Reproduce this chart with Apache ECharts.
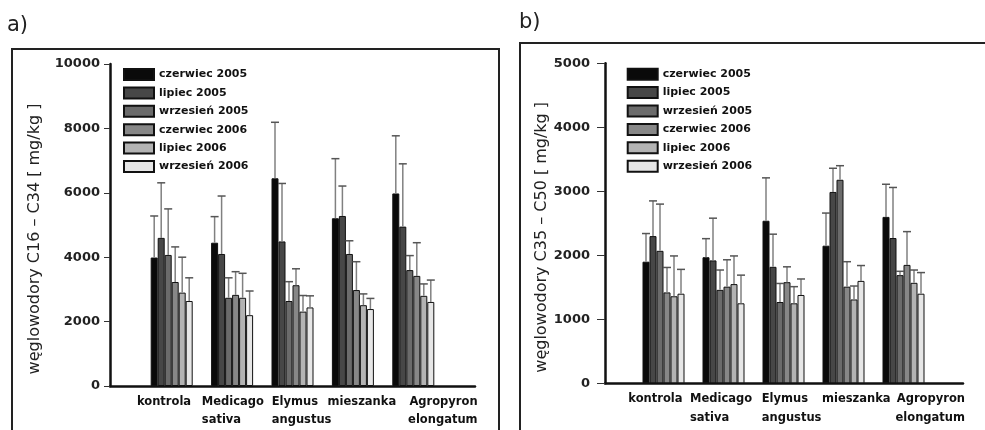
<!DOCTYPE html>
<html>
<head>
<meta charset="utf-8">
<script src="https://cdn.jsdelivr.net/npm/echarts@6/dist/echarts.min.js"></script>
<style>html,body{margin:0;padding:0;background:#fff}#c{width:985px;height:430px}</style>
</head>
<body>
<div id="c"></div>
<script>
// ---------- data ----------
const categories = ['kontrola', 'Medicago\nsativa', 'Elymus\nangustus', 'mieszanka', 'Agropyron\nelongatum'];
const seriesNames = ['czerwiec 2005', 'lipiec 2005', 'wrzesień 2005', 'czerwiec 2006', 'lipiec 2006', 'wrzesień 2006'];
const ticksA = [0, 2000, 4000, 6000, 8000, 10000];
const ticksB = [0, 1000, 2000, 3000, 4000, 5000];
const titleA = 'węglowodory C16 – C34 [ mg/kg ]';
const titleB = 'węglowodory C35 – C50 [ mg/kg ]';

// chart a) C16–C34, one array per sampling date (across categories)
const a_cz05 = [3990, 4450, 6450, 5210, 5980];
const a_lip05 = [4600, 4100, 4490, 5280, 4950];
const a_wrz05 = [4070, 2740, 2640, 4100, 3600];
const a_cz06 = [3230, 2830, 3130, 2980, 3420];
const a_lip06 = [2900, 2740, 2310, 2510, 2800];
const a_wrz06 = [2640, 2200, 2440, 2390, 2610];
// error (SD) for chart a)
const a_cz05_err = [1290, 810, 1740, 1850, 1790];
const a_lip05_err = [1710, 1800, 1800, 930, 1950];
const a_wrz05_err = [1430, 620, 600, 410, 450];
const a_cz06_err = [1090, 720, 510, 880, 1030];
const a_lip06_err = [1100, 760, 500, 350, 370];
const a_wrz06_err = [720, 750, 360, 330, 680];

// chart b) C35–C50
const b_cz05 = [1900, 1970, 2540, 2150, 2600];
const b_lip05 = [2300, 1920, 1820, 2990, 2270];
const b_wrz05 = [2070, 1460, 1270, 3180, 1690];
const b_cz06 = [1420, 1510, 1580, 1510, 1850];
const b_lip06 = [1360, 1550, 1250, 1310, 1570];
const b_wrz06 = [1400, 1250, 1380, 1600, 1400];
const b_cz05_err = [440, 290, 670, 510, 510];
const b_lip05_err = [550, 660, 510, 370, 790];
const b_wrz05_err = [730, 310, 290, 220, 60];
const b_cz06_err = [390, 420, 240, 390, 520];
const b_lip06_err = [630, 440, 260, 210, 200];
const b_wrz06_err = [380, 440, 250, 240, 330];

const valsA = [a_cz05, a_lip05, a_wrz05, a_cz06, a_lip06, a_wrz06];
const errsA = [a_cz05_err, a_lip05_err, a_wrz05_err, a_cz06_err, a_lip06_err, a_wrz06_err];
const valsB = [b_cz05, b_lip05, b_wrz05, b_cz06, b_lip06, b_wrz06];
const errsB = [b_cz05_err, b_lip05_err, b_wrz05_err, b_cz06_err, b_lip06_err, b_wrz06_err];

// ---------- styles ----------
const colors = ['#0a0a0a', '#474747', '#6b6b6b', '#878787', '#b3b3b3', '#e6e6e6'];
const BAR_W = 7;
const BOLD = 'DejaVu Sans';
// label token widths / alignment (layout styling of category labels)
const labStyleA = [{w: 69.6, a: 'left'}, {w: 60.6, a: 'left'}, {w: 41.6, a: 'left'}, {w: 50.6, a: 'left'}, {w: 128.6, a: 'right'}];
const labStyleB = [{w: 70.4, a: 'left'}, {w: 67, a: 'left'}, {w: 43.6, a: 'left'}, {w: 43, a: 'left'}, {w: 123, a: 'right'}];

function richFor(ls) {
  const r = {};
  ls.forEach((s, i) => { r['t' + i] = {width: s.w, align: s.a, fontFamily: BOLD, fontWeight: 'bold', fontSize: 11.5, lineHeight: 18.3, color: '#111'}; });
  return r;
}
function catAxis(gi, ls) {
  return {
    gridIndex: gi, type: 'category', data: categories,
    axisLine: {show: false}, axisTick: {show: false}, splitLine: {show: false},
    axisLabel: {
      interval: 0, margin: 7, hideOverlap: false,
      formatter: (v, idx) => v.split('\n').map(l => '{t' + idx + '|' + l + '}').join('\n'),
      rich: richFor(ls)
    }
  };
}
function frameX(gi) {
  return {gridIndex: gi, type: 'value', min: 0, max: 1, axisLine: {show: true, lineStyle: {color: '#111', width: 2.5}},
    axisTick: {show: false}, axisLabel: {show: false}, splitLine: {show: false}};
}
function frameY(gi, ticks, title, tickLen, labMargin, nameGap) {
  return {
    gridIndex: gi, type: 'value', min: ticks[0], max: ticks[ticks.length - 1], interval: ticks[1] - ticks[0],
    axisLine: {show: true, lineStyle: {color: '#111', width: 2.5}},
    axisTick: {show: true, inside: false, length: tickLen, lineStyle: {color: '#333', width: 1}},
    splitLine: {show: false},
    axisLabel: {margin: labMargin, formatter: v => String(v), fontFamily: BOLD, fontWeight: 'bold', fontSize: 13, color: '#222'},
    name: title, nameLocation: 'middle', nameGap: nameGap,
    nameTextStyle: {fontFamily: 'DejaVu Sans', fontSize: 16, color: '#222', padding: [0, 28, 0, 0]}
  };
}
function hiddenY(gi, ticks) {
  return {gridIndex: gi, type: 'value', min: ticks[0], max: ticks[ticks.length - 1], show: false};
}
function barSeries(xi, yi, vals) {
  return vals.map((arr, s) => ({
    type: 'bar', name: seriesNames[s], xAxisIndex: xi, yAxisIndex: yi, data: arr,
    barWidth: BAR_W, barGap: '0%', silent: true,
    itemStyle: {color: colors[s], borderColor: '#111', borderWidth: 1}
  }));
}
function errSeries(xi, yi, vals, errs) {
  const data = [];
  vals.forEach((arr, s) => arr.forEach((v, c) => data.push([c, s, v, errs[s][c]])));
  return {
    type: 'custom', xAxisIndex: xi, yAxisIndex: yi, z: 5, silent: true, data: data,
    encode: {x: 0, y: 2},
    renderItem: function (params, api) {
      const c = api.value(0), s = api.value(1), v = api.value(2), e = api.value(3);
      const base = api.coord([c, v]);
      const top = api.coord([c, v + e]);
      const x = base[0] + (s - 2.5) * BAR_W;
      return {type: 'group', children: [
        {type: 'line', shape: {x1: x, y1: base[1], x2: x, y2: top[1]}, style: {stroke: '#808080', lineWidth: 1.5}},
        {type: 'line', shape: {x1: x - 4, y1: top[1], x2: x + 4, y2: top[1]}, style: {stroke: '#555', lineWidth: 1.5}}
      ]};
    }
  };
}
function legend(left, top) {
  return {
    data: seriesNames, orient: 'vertical', left: left, top: top, itemWidth: 30, itemHeight: 11, itemGap: 5.4,
    icon: 'rect', selectedMode: false,
    textStyle: {fontFamily: BOLD, fontWeight: 'bold', fontSize: 11, color: '#111'}
  };
}

const chart = echarts.init(document.getElementById('c'), null, {renderer: 'canvas'});
chart.setOption({
  animation: false,
  backgroundColor: '#fff',
  grid: [
    {left: 110, top: 64, width: 365, height: 322},
    {left: 141.5, top: 64, width: 302, height: 322},
    {left: 605, top: 63.3, width: 358, height: 320},
    {left: 633.5, top: 63.3, width: 300, height: 320}
  ],
  xAxis: [frameX(0), catAxis(1, labStyleA), frameX(2), catAxis(3, labStyleB)],
  yAxis: [frameY(0, ticksA, titleA, 6, 10, 67), hiddenY(1, ticksA), frameY(2, ticksB, titleB, 8, 15, 54), hiddenY(3, ticksB)],
  legend: [legend(118, 63), legend(621.7, 62.7)],
  series: [].concat(
    barSeries(1, 1, valsA), [errSeries(1, 1, valsA, errsA)],
    barSeries(3, 3, valsB), [errSeries(3, 3, valsB, errsB)]
  ),
  graphic: [
    {type: 'rect', shape: {x: 12, y: 49, width: 487, height: 420}, style: {fill: 'none', stroke: '#222', lineWidth: 2}, silent: true},
    {type: 'rect', shape: {x: 520, y: 43, width: 500, height: 420}, style: {fill: 'none', stroke: '#222', lineWidth: 2}, silent: true},
    {type: 'text', x: 7, y: 15, style: {text: 'a)', font: '21px "DejaVu Sans"', fill: '#222'}, silent: true},
    {type: 'text', x: 519, y: 12, style: {text: 'b)', font: '21px "DejaVu Sans"', fill: '#222'}, silent: true}
  ]
});
</script>
</body>
</html>
